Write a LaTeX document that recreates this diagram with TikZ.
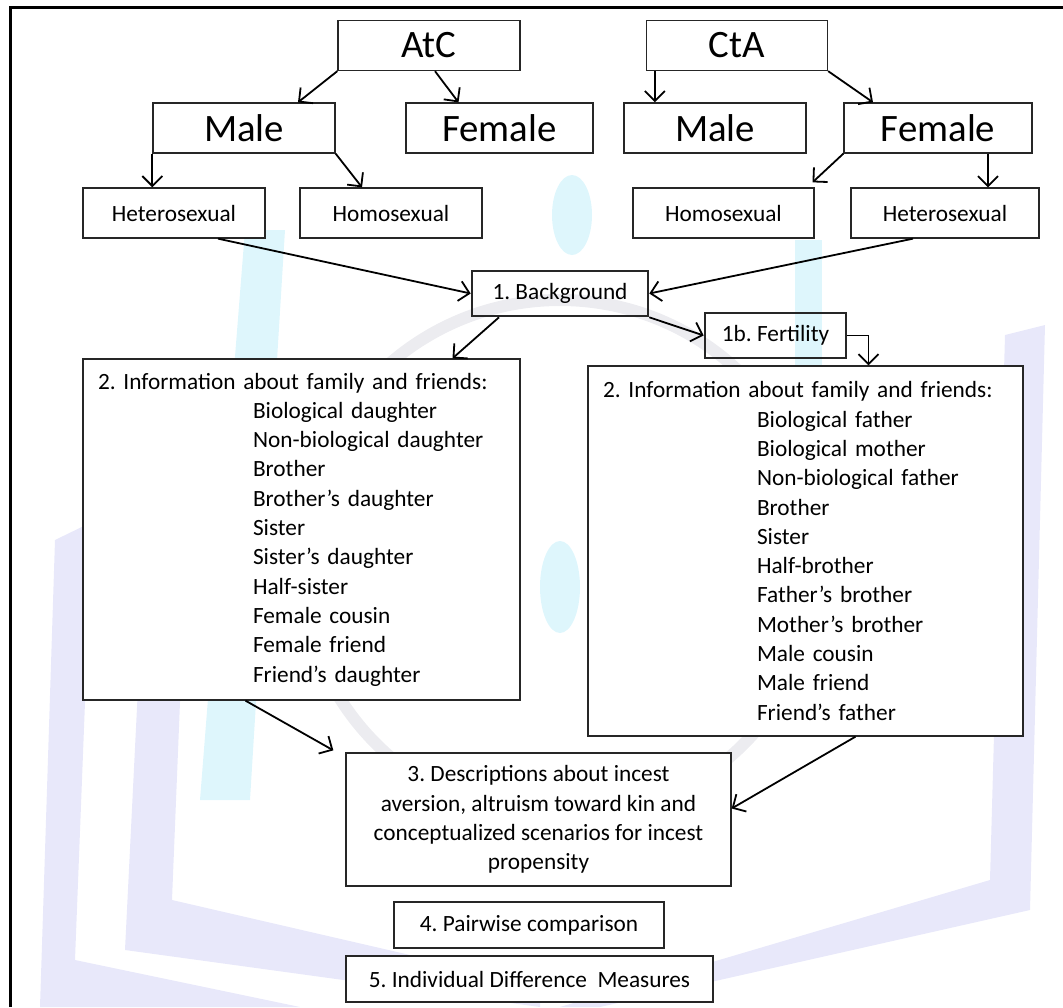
\documentclass[tikz,border=0pt]{standalone}
\usepackage{fontspec}
\setmainfont{Carlito}
\frenchspacing
\usetikzlibrary{%
  calc,
  positioning,
  arrows.meta,
}
\definecolor{wmlav}{RGB}{232,232,250}
\definecolor{wmcyan}{RGB}{222,246,252}
\definecolor{wmgrey}{RGB}{236,236,240}

\begin{document}
\begin{tikzpicture}[x=1pt, y=-1pt,
  >={Straight Barb[length=10pt,width=20pt]},
  box/.style={draw=black!85, line width=1.3pt, fill=white,
    inner sep=0pt, minimum height=50pt},
  bigbox/.style={box, font=\fontsize{38.8}{46}\selectfont},
  smallbox/.style={box, font=\fontsize{23.3}{29.3}\selectfont},
  stepbox/.style={smallbox, fill=none, line width=2.6pt,
    minimum height=45pt},
  listbox/.style={smallbox, align=left, inner xsep=15pt},
  link/.style={->, line width=1.8pt, black},
]
  \useasboundingbox (0,0) rectangle (1063,1007);

  % faint logo behind the chart
  \fill[wmlav] (150,445) -- (190,455) -- (172,900) -- (540,985)
    -- (540,1007) -- (125,950) -- cycle;
  \fill[wmlav] (55,540) -- (92,522) -- (75,960) -- (300,1007)
    -- (40,1007) -- cycle;
  \fill[wmlav] (1005,335) -- (1045,325) -- (1030,910) -- (600,1007)
    -- (560,1007) -- (990,880) -- cycle;
  \draw[wmgrey, line width=12pt] (560,560) circle (260);
  \fill[wmcyan] (245,230) -- (285,230) -- (250,800) -- (200,800) -- cycle;
  \fill[wmcyan] (795,240) rectangle (822,380);
  \fill[wmcyan] (572,215) ellipse (20 and 40);
  \fill[wmcyan] (560,587) ellipse (20 and 46);

  % frame
  \draw[line width=3pt] (10,1007) -- (10,7) -- (1063,7);

  % top two trees
  \node[bigbox, minimum width=182pt] (atc) at (429,45.5) {AtC};
  \node[bigbox, minimum width=181pt] (cta) at (737,45.5) {CtA};

  \node[bigbox, minimum width=182pt] (maleL) at (244,128) {Male};
  \node[bigbox, minimum width=187pt] (femaleL) at (499.5,128) {Female};
  \node[bigbox, minimum width=182pt] (maleR) at (715,128) {Male};
  \node[bigbox, minimum width=188pt] (femaleR) at (938,128) {Female};

  \node[smallbox, minimum width=182pt] (hetL) at (174,213) {Heterosexual};
  \node[smallbox, minimum width=182pt] (homoL) at (391,213) {Homosexual};
  \node[smallbox, minimum width=181pt] (homoR) at (723.5,213) {Homosexual};
  \node[smallbox, minimum width=188pt] (hetR) at (945,213) {Heterosexual};

  % steps
  \node[stepbox, minimum width=176pt] (bg) at (560,293.5)
    {1. Background};
  \node[stepbox, minimum width=141pt] (fert) at (775.5,335.5)
    {1b. Fertility};

  \node[listbox, text width=407pt, minimum height=341pt]
    (infoL) at (301.5,529.5)
    {2. Information about family and friends:\\
     \hspace*{155pt}Biological daughter\\
     \hspace*{155pt}Non-biological daughter\\
     \hspace*{155pt}Brother\\
     \hspace*{155pt}Brother’s daughter\\
     \hspace*{155pt}Sister\\
     \hspace*{155pt}Sister’s daughter\\
     \hspace*{155pt}Half-sister\\
     \hspace*{155pt}Female cousin\\
     \hspace*{155pt}Female friend\\
     \hspace*{155pt}Friend’s daughter};
  \node[listbox, text width=405pt, minimum height=370pt]
    (infoR) at (805.5,551)
    {2. Information about family and friends:\\
     \hspace*{154pt}Biological father\\
     \hspace*{154pt}Biological mother\\
     \hspace*{154pt}Non-biological father\\
     \hspace*{154pt}Brother\\
     \hspace*{154pt}Sister\\
     \hspace*{154pt}Half-brother\\
     \hspace*{154pt}Father’s brother\\
     \hspace*{154pt}Mother’s brother\\
     \hspace*{154pt}Male cousin\\
     \hspace*{154pt}Male friend\\
     \hspace*{154pt}Friend’s father};

  \node[smallbox, align=center, minimum width=385pt,
    minimum height=133pt] (desc) at (538.5,819.5)
    {3. Descriptions about incest\\
     aversion, altruism toward kin and\\
     conceptualized scenarios for incest\\
     propensity};
  \node[smallbox, minimum width=270pt, minimum height=46pt]
    (pair) at (529,925) {4. Pairwise comparison};
  \node[smallbox, minimum width=367pt, minimum height=46pt]
    (indiv) at (529.5,979) {5. Individual Difference\ \ Measures};

  % connectors
  \coordinate (c1) at ([xshift=9pt]cta.south west);
  \coordinate (c2) at ([xshift=50pt]femaleR.south);

  \draw[link] (atc.south west) -- ([xshift=54pt]maleL.north);
  \draw[link] ([xshift=6pt]atc.south) -- ([xshift=-41pt]femaleL.north);
  \draw[link] (maleL.south west) -- (maleL.south west |- hetL.north);
  \draw[link] (maleL.south east) -- ([xshift=-29pt]homoL.north);

  \draw[link] (c1) -- (c1 |- maleR.north);
  \draw[link] (cta.south east) -- ([xshift=-65pt]femaleR.north);
  \draw[link] (femaleR.south west)
    -- ([xshift=89pt, yshift=5pt]homoR.north);
  \draw[link] (c2) -- (c2 |- hetR.north);

  \draw[link] ([xshift=44pt]hetL.south) -- (bg.west);
  \draw[link] ([xshift=-32pt]hetR.south) -- (bg.east);

  \draw[link] ([xshift=-61pt]bg.south) -- ([xshift=151pt]infoL.north);
  \draw[link] (bg.south east) -- (fert.west);
  \draw[link] (fert.east) -| ([xshift=63pt]infoR.north);

  \draw[link] ([xshift=-56pt]infoL.south)
    -- ([xshift=-12pt, yshift=2pt]desc.north west);
  \draw[link] ([xshift=50pt]infoR.south) -- ([yshift=11pt]desc.east);
\end{tikzpicture}
\end{document}
